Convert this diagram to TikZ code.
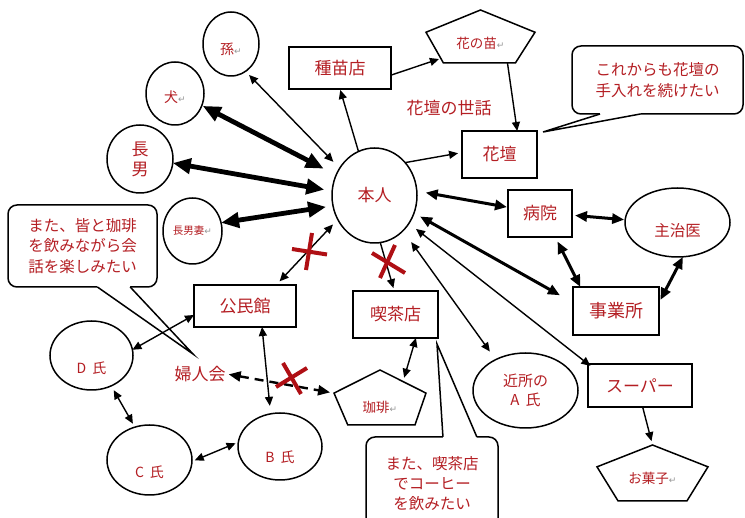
\documentclass[tikz,border=0pt]{standalone}
\usepackage{fontspec}
\setmainfont{Noto Sans CJK JP}
\newfontfamily\symfont{DejaVu Sans}
\usetikzlibrary{arrows.meta,shapes.geometric,calc}
\definecolor{txtred}{RGB}{180,30,35}
\definecolor{xred}{RGB}{175,15,20}
\definecolor{retgray}{RGB}{150,150,150}
\newcommand\ret{{\symfont\color{retgray}\fontsize{9pt}{9pt}\selectfont ↵}}
\newcommand\mkpent[4]{%
  \coordinate (#1-t) at (#1.north);
  \coordinate (#1-r) at ($(#1.north east)!#2!(#1.south east)$);
  \coordinate (#1-br) at ($(#1.south east)!#4!(#1.south west)$);
  \coordinate (#1-bl) at ($(#1.south west)!#3!(#1.south east)$);
  \coordinate (#1-l) at ($(#1.north west)!#2!(#1.south west)$);
  \draw[shapeln] (#1-t) -- (#1-r) -- (#1-br) -- (#1-bl) -- (#1-l) -- cycle;}
\tikzset{
  f18/.style={font=\fontsize{18pt}{21pt}\selectfont},
  f17/.style={font=\fontsize{17pt}{21pt}\selectfont},
  f155/.style={font=\fontsize{15.5pt}{20.5pt}\selectfont},
  f15/.style={font=\fontsize{15pt}{19pt}\selectfont},
  f14/.style={font=\fontsize{14pt}{17pt}\selectfont},
  f135/.style={font=\fontsize{13.5pt}{16pt}\selectfont},
  f105/.style={font=\fontsize{10.5pt}{12pt}\selectfont},
  shapeln/.style={draw=black, line width=1.5pt},
  boxnd/.style={shapeln, rectangle, inner sep=0pt, outer sep=0pt, text=txtred, f17},
  ellnd/.style={shapeln, ellipse, inner sep=0pt, outer sep=0pt, text=txtred},
  pentnd/.style={rectangle, inner sep=0pt, outer sep=0pt},
  lbl/.style={text=txtred},
  callnd/.style={shapeln, rectangle, rounded corners=9pt, inner sep=0pt, outer sep=0pt, text=txtred, f155, align=center},
  plaintxt/.style={text=txtred, f17, inner sep=1pt},
  ahs/.tip={Triangle[length=9pt,width=8pt]},
  ahm/.tip={Triangle[length=12pt,width=10pt]},
  ahl/.tip={Triangle[length=18pt,width=15pt]},
  lnthin/.style={line width=1.4pt},
  lnmid/.style={line width=3pt},
  lnthick/.style={line width=4.8pt},
  xmark/.style={xred, line width=4pt},
}
\begin{document}
\begin{tikzpicture}[x=1pt,y=-1pt]
\fill[white] (0,0) rectangle (745,518);
\useasboundingbox (0,0) rectangle (745,518);

% ---- nodes ----
\node[ellnd, minimum width=56pt, minimum height=64pt,
  label={[lbl,f14,yshift=-5pt]center:孫\ret}] (mago) at (231,44) {};
\node[ellnd, minimum width=58pt, minimum height=63pt,
  label={[lbl,f14,yshift=-3.5pt]center:犬\ret}] (inu) at (175,93.5) {};
\node[ellnd, minimum width=66pt, minimum height=68pt, f17, align=center] (chonan) at (140,159) {長\\[-1pt]男};
\node[ellnd, minimum width=59pt, minimum height=66pt, f105] (tsuma) at (192.5,231) {長男妻\ret};
\node[ellnd, minimum width=85pt, minimum height=95pt, f17] (honnin) at (374.5,195.5) {本人};

\node[boxnd, minimum width=102pt, minimum height=42pt] (shubyo) at (340,68) {種苗店};
\node[pentnd, minimum width=109pt, minimum height=53pt,
  label={[lbl,f135,yshift=-6.5pt]center:花の苗\ret}] (miao) at (480.5,36.5) {};
\mkpent{miao}{0.42}{0.16}{0.18}
\node[plaintxt] (sewa) at (449,108) {花壇の世話};
\node[boxnd, minimum width=75pt, minimum height=47pt] (kadan) at (499.5,154.5) {花壇};

\node[boxnd, minimum width=64pt, minimum height=47pt] (byoin) at (540,213.5) {病院};
\node[ellnd, minimum width=105pt, minimum height=69pt,
  label={[lbl,f155,yshift=-8.5pt]center:主治医}] (zhuzhi) at (677.5,222.5) {};
\node[boxnd, minimum width=86pt, minimum height=48pt, f18] (jigyo) at (616,311) {事業所};
\node[boxnd, minimum width=104pt, minimum height=43pt] (super) at (640,385.5) {スーパー};
\node[pentnd, minimum width=111pt, minimum height=56pt,
  label={[lbl,f135,yshift=-5pt]center:お菓子\ret}] (okashi) at (652.5,473) {};
\mkpent{okashi}{0.39}{0.19}{0.19}
\node[ellnd, minimum width=105pt, minimum height=75pt, f15, align=center] (kinjo) at (525.5,390.5) {近所の\\A\hspace{6pt}氏};

\node[boxnd, minimum width=85pt, minimum height=47pt] (kissa) at (395.5,314.5) {喫茶店};
\node[pentnd, minimum width=92pt, minimum height=55pt,
  label={[lbl,f135,yshift=-9.5pt]center:珈琲\ret}] (coffee) at (380,397.5) {};
\mkpent{coffee}{0.42}{0.15}{0.12}
\node[boxnd, minimum width=102pt, minimum height=42pt] (komin) at (245,306) {公民館};
\node[plaintxt] (fujin) at (200,374) {婦人会};
\node[ellnd, minimum width=83pt, minimum height=69pt,
  label={[lbl,f14,yshift=-12.5pt]center:D\hspace{6pt}氏}] (dshi) at (91.5,355.5) {};
\node[ellnd, minimum width=85pt, minimum height=70pt,
  label={[lbl,f14,yshift=-12pt]center:C\hspace{6pt}氏}] (cshi) at (149.5,460) {};
\node[ellnd, minimum width=84pt, minimum height=67pt,
  label={[lbl,f14,yshift=-10.5pt]center:B\hspace{6pt}氏}] (bshi) at (280,446.5) {};

% ---- callouts ----
\node[callnd, minimum width=149pt, minimum height=82pt] (c1) at (82.5,246)
  {また、皆と珈琲\\を飲みながら会\\話を楽しみたい};
\coordinate (tip1) at (193,354);
\coordinate (c1a) at ($(c1.south west)!0.60!(c1.south east)$);
\coordinate (c1b) at ($(c1.south west)!0.82!(c1.south east)$);
\fill[white] (c1a) -- (tip1) -- (c1b) -- ($(c1b)+(0,-2.5)$) -- ($(c1a)+(0,-2.5)$) -- cycle;
\draw[shapeln] (c1a) -- (tip1) -- (c1b);

\node[callnd, minimum width=171pt, minimum height=68pt] (c2) at (657.5,80)
  {これからも花壇の\\手入れを続けたい};
\coordinate (tip2) at (543,132);
\coordinate (c2a) at ($(c2.south west)!0.164!(c2.south east)$);
\coordinate (c2b) at ($(c2.south west)!0.40!(c2.south east)$);
\fill[white] (c2a) -- (tip2) -- (c2b) -- ($(c2b)+(0,-2.5)$) -- ($(c2a)+(0,-2.5)$) -- cycle;
\draw[shapeln] (c2a) -- (tip2) -- (c2b);

\node[callnd, minimum width=132pt, minimum height=93pt] (c3) at (432,483.5)
  {また、喫茶店\\[-0.5pt]でコーヒー\\[-0.5pt]を飲みたい};
\coordinate (tip3) at (437,344);
\coordinate (c3a) at ($(c3.north west)!0.583!(c3.north east)$);
\coordinate (c3b) at ($(c3.north west)!0.84!(c3.north east)$);
\fill[white] (c3a) -- (tip3) -- (c3b) -- ($(c3b)+(0,2.5)$) -- ($(c3a)+(0,2.5)$) -- cycle;
\draw[shapeln] (c3a) -- (tip3) -- (c3b);

% ---- connectors ----
\draw[lnthin, ahs-ahs, shorten <=9pt, shorten >=5pt] (honnin.142) -- (mago.-62);
\draw[lnthick, ahl-ahl, shorten <=14pt, shorten >=1pt] (honnin.152) -- (inu.-24);
\draw[lnthick, ahl-ahl, shorten <=8pt] (honnin.174) -- (chonan.-7);
\draw[lnthick, ahl-ahl, shorten <=7pt] (honnin.-166) -- (tsuma.16);
\draw[lnthin, -ahs, shorten >=1pt] (honnin.110) -- (shubyo.south);
\draw[lnthin, -ahs, shorten >=2pt] (shubyo.-8) -- ($(miao-l)!0.85!(miao-bl)$);
\draw[lnthin, -ahs] ($(miao-bl)!0.89!(miao-br)$) -- (kadan.53);
\draw[lnthin, -ahs, shorten >=4pt] (honnin.47) -- (kadan.177);
\draw[lnmid, ahm-ahm, shorten <=9pt, shorten >=1pt] (honnin.6) -- (byoin.169);
\draw[lnmid, ahm-ahm, shorten <=3pt, shorten >=1pt] (byoin.-3) -- (zhuzhi.177);
\draw[lnmid, ahm-ahm, shorten <=5pt] (byoin.-57) -- (jigyo.146);
\draw[lnmid, ahm-ahm, shorten <=3pt] (jigyo.11) -- (zhuzhi.-81);
\draw[lnmid, ahm-ahm, shorten <=7pt, shorten >=15pt] (honnin.-24) -- (jigyo.169);
\draw[lnthin, ahs-ahs, shorten <=9pt, shorten >=-3pt] (honnin.-39) -- (super.north west);
\draw[lnthin, ahs-ahs, shorten <=14pt, shorten >=10pt] (honnin.-51) -- (kinjo.134);
\draw[lnthin, -ahs, shorten >=4pt] (super.-83) -- (okashi.north);
\draw[lnthin, -ahs, shorten >=3pt] (honnin.-83) -- (kissa.93);
\draw[lnthin, ahs-ahs, shorten >=4pt] (kissa.-49) -- ($(coffee-t)!0.5!(coffee-r)$);
\draw[lnthin, ahs-ahs, shorten <=7pt, shorten >=5pt] (honnin.-147) -- (komin.34);
\draw[lnthin, ahs-ahs] (komin.190) -- (dshi.8);
\draw[lnthin, ahs-ahs, shorten >=8pt] (komin.-51) -- (bshi.106);
\draw[line width=2.4pt, dash pattern=on 9pt off 6pt, ahm-ahm, shorten <=2pt, shorten >=4pt] (fujin.east) -- (coffee-l);
\draw[lnthin, ahs-ahs, shorten <=5pt, shorten >=4pt] (dshi.-57) -- (cshi.114);
\draw[lnthin, ahs-ahs, shorten <=3pt, shorten >=3pt] (cshi.-2) -- (bshi.174);

% ---- red crosses ----
\draw[xmark] (292,249) -- (327,254.5);
\draw[xmark] (312,233) -- (306,270);
\draw[xmark] (372,253) -- (405,273);
\draw[xmark] (395,245) -- (380,278);
\draw[xmark] (276,387) -- (307,368);
\draw[xmark] (283,363) -- (301,394);
\end{tikzpicture}
\end{document}
